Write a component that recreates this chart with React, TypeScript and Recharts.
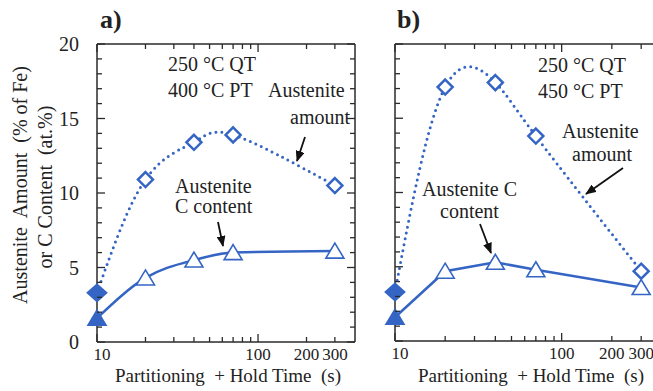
import { Line, LineChart, ReferenceLine, XAxis, YAxis } from "recharts";

// hold times (s) and measured values for the two partitioning temperatures
const HOLD_TIMES = [10, 20, 40, 70, 300];
const AMOUNT_400 = [3.3, 10.9, 13.4, 13.9, 10.5];
const CARBON_400 = [1.6, 4.3, 5.5, 6.0, 6.1];
const AMOUNT_450 = [3.3, 17.1, 17.4, 13.8, 4.7];
const CARBON_450 = [1.6, 4.7, 5.3, 4.8, 3.6];

const X_TICKS = [10, 20, 30, 40, 50, 60, 70, 80, 90, 100, 200, 300];
const X_LABELS = [10, 100, 200, 300];
const Y_TICKS = [0, 1, 2, 3, 4, 5, 6, 7, 8, 9, 10, 11, 12, 13, 14, 15, 16, 17, 18, 19, 20];
const Y_LABELS = [0, 5, 10, 15, 20];

const BLUE = "#3565c4";
const AXIS = "#2a2a2a";
const INK = "#222";
const FONT = "'Liberation Serif', 'Times New Roman', serif";

const X_AXIS_H = 30;
const Y_AXIS_W = 60;

type Margin = { top: number; right: number; bottom: number; left: number };

function Diamond(props: any) {
  const { cx, cy, index } = props;
  if (cx == null || cy == null) return null;
  const filled = index === 0;
  const w = filled ? 9 : 7.5;
  const h = filled ? 8 : 7.5;
  return (
    <polygon
      points={`${cx},${cy - h} ${cx + w},${cy} ${cx},${cy + h} ${cx - w},${cy}`}
      fill={filled ? BLUE : "#fff"}
      stroke={BLUE}
      strokeWidth={2.5}
    />
  );
}

function Triangle(props: any) {
  const { cx, cy, index } = props;
  if (cx == null || cy == null) return null;
  const filled = index === 0;
  return (
    <polygon
      points={`${cx},${cy - 8} ${cx + 9},${cy + 7} ${cx - 9},${cy + 7}`}
      fill={filled ? BLUE : "#fff"}
      stroke={BLUE}
      strokeWidth={1.6}
    />
  );
}

function Panel({
  amount,
  carbon,
  left,
  width,
  margin,
  carbonCurve,
  yLabels,
}: {
  amount: number[];
  carbon: number[];
  left: number;
  width: number;
  margin: Margin;
  carbonCurve: "monotone" | "linear";
  yLabels: boolean;
}) {
  const rows = HOLD_TIMES.map((t, i) => ({ t, amount: amount[i], carbon: carbon[i] }));
  const plotTop = margin.top;
  const plotRight = width - margin.right;

  // inward ticks on bottom and top edges
  const XTick = (p: any) => {
    const v = p.payload.value;
    const len = v === 10 || v === 100 ? 8 : 5;
    return (
      <g>
        <line x1={p.x} x2={p.x} y1={p.y} y2={p.y - len} stroke={AXIS} strokeWidth={1.3} />
        <line x1={p.x} x2={p.x} y1={plotTop} y2={plotTop + len} stroke={AXIS} strokeWidth={1.3} />
        {X_LABELS.includes(v) && (
          <text x={p.x + (v === 10 ? 5 : 0)} y={p.y + 18} textAnchor="middle" fontSize={17} fontFamily={FONT} fill={INK}>
            {v}
          </text>
        )}
      </g>
    );
  };

  // inward ticks on left and right edges
  const YTick = (p: any) => {
    const v = p.payload.value;
    const major = Y_LABELS.includes(v);
    const len = major ? 8 : 5;
    return (
      <g>
        <line x1={p.x} x2={p.x + len} y1={p.y} y2={p.y} stroke={AXIS} strokeWidth={1.3} />
        <line x1={plotRight} x2={plotRight - len} y1={p.y} y2={p.y} stroke={AXIS} strokeWidth={1.3} />
        {major && yLabels && (
          <text x={p.x - 18} y={p.y} dy="0.35em" textAnchor="end" fontSize={20} fontFamily={FONT} fill={INK}>
            {v}
          </text>
        )}
      </g>
    );
  };

  return (
    <div style={{ position: "absolute", left, top: 0 }}>
      <LineChart width={width} height={391} data={rows} margin={margin}>
        <XAxis
          dataKey="t"
          type="number"
          scale="log"
          domain={[10, 400]}
          ticks={X_TICKS}
          interval={0}
          height={X_AXIS_H}
          tickSize={0}
          tickMargin={0}
          tickLine={false}
          tick={XTick}
          axisLine={{ stroke: AXIS, strokeWidth: 1.5 }}
        />
        <YAxis
          type="number"
          domain={[0, 20]}
          ticks={Y_TICKS}
          interval={0}
          width={Y_AXIS_W}
          tickSize={0}
          tickMargin={0}
          tickLine={false}
          tick={YTick}
          axisLine={{ stroke: AXIS, strokeWidth: 1.5 }}
        />
        <ReferenceLine y={20} stroke={AXIS} strokeWidth={1.5} />
        <ReferenceLine x={400} stroke={AXIS} strokeWidth={1.5} />
        <Line
          dataKey="carbon"
          type={carbonCurve}
          stroke={BLUE}
          strokeWidth={2.5}
          dot={(p: any) => <Triangle key={`t${p.index}`} {...p} />}
          activeDot={false}
          isAnimationActive={false}
        />
        <Line
          dataKey="amount"
          type="natural"
          stroke={BLUE}
          strokeWidth={3}
          strokeDasharray="0 6"
          strokeLinecap="round"
          dot={(p: any) => <Diamond key={`d${p.index}`} {...p} />}
          activeDot={false}
          isAnimationActive={false}
        />
      </LineChart>
    </div>
  );
}

function Note({ x, y, children }: { x: number; y: number; children: string }) {
  return (
    <text x={x} y={y} fontSize={20} fontFamily={FONT} fill={INK}>
      {children}
    </text>
  );
}

function Arrow({ x1, y1, x2, y2 }: { x1: number; y1: number; x2: number; y2: number }) {
  return <line x1={x1} y1={y1} x2={x2} y2={y2} stroke="#111" strokeWidth={1.8} markerEnd="url(#head)" />;
}

export default function App() {
  return (
    <div
      style={{
        position: "fixed",
        left: 0,
        top: 0,
        width: 653,
        height: 391,
        overflow: "hidden",
        background: "#fff",
      }}
    >
      <Panel
        amount={AMOUNT_400}
        carbon={CARBON_400}
        left={0}
        width={365}
        margin={{ top: 44, right: 10, bottom: 49 - X_AXIS_H, left: 97 - Y_AXIS_W }}
        carbonCurve="monotone"
        yLabels
      />
      <Panel
        amount={AMOUNT_450}
        carbon={CARBON_450}
        left={300}
        width={370}
        margin={{ top: 44, right: 8, bottom: 50 - X_AXIS_H, left: 95 - Y_AXIS_W }}
        carbonCurve="linear"
        yLabels={false}
      />
      <svg width={653} height={391} style={{ position: "absolute", left: 0, top: 0, pointerEvents: "none" }}>
        <defs>
          <marker id="head" markerUnits="userSpaceOnUse" markerWidth={11} markerHeight={9} refX={10} refY={4.5} orient="auto">
            <path d="M0,0 L11,4.5 L0,9 z" fill="#111" />
          </marker>
        </defs>

        <text x={100} y={28} fontSize={26} fontWeight="bold" fontFamily={FONT} fill={INK}>
          a)
        </text>
        <text x={397} y={28} fontSize={26} fontWeight="bold" fontFamily={FONT} fill={INK}>
          b)
        </text>

        <text
          x={20}
          y={185}
          transform="rotate(-90 20 185)"
          textAnchor="middle"
          dominantBaseline="central"
          fontSize={20}
          fontFamily={FONT}
          fill={INK}
          xmlSpace="preserve"
        >
          Austenite  Amount  (% of Fe)
        </text>
        <text
          x={45}
          y={187}
          transform="rotate(-90 45 187)"
          textAnchor="middle"
          dominantBaseline="central"
          fontSize={20}
          fontFamily={FONT}
          fill={INK}
          xmlSpace="preserve"
        >
          or C Content  (at.%)
        </text>

        <text x={228} y={382} textAnchor="middle" fontSize={19} fontFamily={FONT} fill={INK} xmlSpace="preserve">
          Partitioning  + Hold Time  (s)
        </text>
        <text x={531} y={382} textAnchor="middle" fontSize={19} fontFamily={FONT} fill={INK} xmlSpace="preserve">
          Partitioning  + Hold Time  (s)
        </text>

        <Note x={168} y={71}>250 °C QT</Note>
        <Note x={168} y={97}>400 °C PT</Note>
        <Note x={268} y={97}>Austenite</Note>
        <Note x={290} y={124}>amount</Note>
        <Arrow x1={305} y1={137} x2={297} y2={161} />
        <Note x={175} y={193}>Austenite</Note>
        <Note x={175} y={213}>C content</Note>
        <Arrow x1={218} y1={222} x2={223} y2={246} />

        <Note x={538} y={72}>250 °C QT</Note>
        <Note x={538} y={98}>450 °C PT</Note>
        <Note x={562} y={138}>Austenite</Note>
        <Note x={572} y={161}>amount</Note>
        <Arrow x1={623} y1={168} x2={586} y2={194} />
        <Note x={422} y={196}>Austenite C</Note>
        <Note x={440} y={218}>content</Note>
        <Arrow x1={480} y1={224} x2={491} y2={253} />
      </svg>
    </div>
  );
}
